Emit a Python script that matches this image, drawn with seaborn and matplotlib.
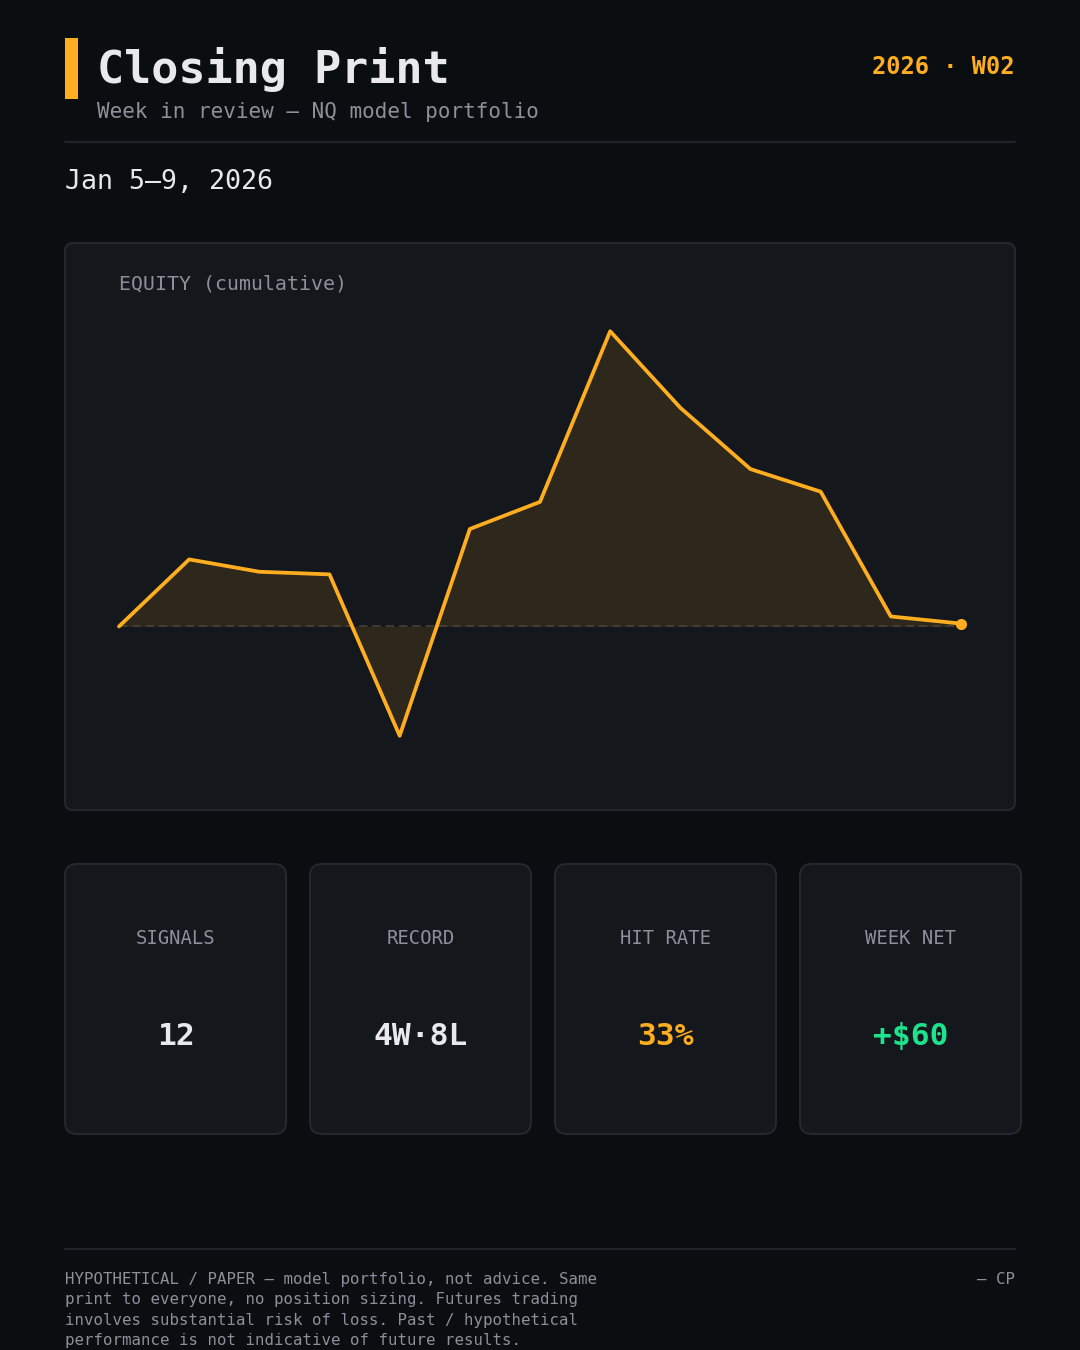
import seaborn as sns
import matplotlib.pyplot as plt
import pandas as pd
from matplotlib.patches import FancyBboxPatch

# data
signal_idx = list(range(13))
equity = [0, 1410, 1150, 1095, -2300, 2050, 2620, 6210, 4600, 3310, 2835, 210, 60]

card_labels = ['SIGNALS', 'RECORD', 'HIT RATE', 'WEEK NET']
card_values = ['12', '4W·8L', '33%', '+$60']

disclaimer = [
    'HYPOTHETICAL / PAPER — model portfolio, not advice. Same',
    'print to everyone, no position sizing. Futures trading',
    'involves substantial risk of loss. Past / hypothetical',
    'performance is not indicative of future results.',
]

# colours
BG = '#0b0e11'
PANEL = '#14171c'
EDGE = '#24282e'
ORANGE = '#ffae1f'
GREY = '#8b9099'
WHITE = '#e8e9ec'
GREEN = '#1de38c'
card_colors = [WHITE, WHITE, ORANGE, GREEN]

# aesthetics pre-update
sns.set_theme(style='dark')
plt.rcParams['font.family'] = ['DejaVu Sans Mono', 'DejaVu Sans']

W, H = 1080, 1350
fig = plt.figure(figsize=(W / 100, H / 100), dpi=100, facecolor=BG)

# background axes in pixel coords
bg = fig.add_axes([0, 0, 1, 1])
bg.set_xlim(0, W)
bg.set_ylim(H, 0)
bg.axis('off')
bg.set_facecolor(BG)

# header
bg.add_patch(plt.Rectangle((65, 38), 13, 61, color=ORANGE, lw=0))
bg.text(97, 83, 'Closing Print', fontsize=32.5, fontweight='bold', color=WHITE, va='baseline')
bg.text(97, 118, 'Week in review — NQ model portfolio', fontsize=15, color=GREY, va='baseline')
bg.text(1015, 74, '2026 · W02', fontsize=17, fontweight='bold', color=ORANGE, va='baseline', ha='right')
bg.plot([65, 1015], [142, 142], color='#20242a', lw=1.5)
bg.text(65, 189, 'Jan 5–9, 2026', fontsize=19.2, color=WHITE, va='baseline')

# chart panel
bg.add_patch(FancyBboxPatch((65, 243), 950, 567, boxstyle='round,pad=0,rounding_size=8',
                            facecolor=PANEL, edgecolor=EDGE, lw=1.5))
bg.text(119, 290, 'EQUITY (cumulative)', fontsize=14.35, color=GREY, va='baseline')

# stat cards
for i, (lab, val, col) in enumerate(zip(card_labels, card_values, card_colors)):
    x0 = 65 + i * 245
    bg.add_patch(FancyBboxPatch((x0, 864), 221, 270, boxstyle='round,pad=0,rounding_size=12',
                                facecolor=PANEL, edgecolor=EDGE, lw=1.5))
    bg.text(x0 + 110.5, 944, lab, fontsize=13.6, color=GREY, ha='center', va='baseline')
    bg.text(x0 + 110.5, 1045, val, fontsize=22.5, fontweight='bold', color=col, ha='center', va='baseline')

# footer
bg.plot([65, 1015], [1249, 1249], color='#20242a', lw=1.5)
for j, line in enumerate(disclaimer):
    bg.text(65, 1284 + j * 20.3, line, fontsize=11.3, color=GREY, va='baseline')
bg.text(1015, 1284, '— CP', fontsize=11.3, color=GREY, va='baseline', ha='right')

# equity chart
df = pd.DataFrame({'signal': signal_idx, 'equity': equity})
ax = fig.add_axes([119 / W, 1 - 756 / H, (961 - 119) / W, 445 / H])
ax.patch.set_alpha(0)
ax.fill_between(df['signal'], 0, df['equity'], color=ORANGE, alpha=0.11, lw=0)
ax.axhline(0, color='#4a4233', lw=1.2, ls=(0, (5, 3)), zorder=1)
sns.lineplot(data=df, x='signal', y='equity', color=ORANGE, lw=2.7, ax=ax,
             clip_on=False, zorder=3)
ax.plot(df['signal'].iloc[-1], df['equity'].iloc[-1], 'o', color=ORANGE, ms=7, clip_on=False, zorder=4)

lo, hi = min(equity), max(equity)
pad = (hi - lo) * 0.05
ax.set_xlim(0, 12)
ax.set_ylim(lo - pad, hi + pad)
ax.axis('off')

fig.savefig('out.png', dpi=100, facecolor=BG)
plt.close(fig)
